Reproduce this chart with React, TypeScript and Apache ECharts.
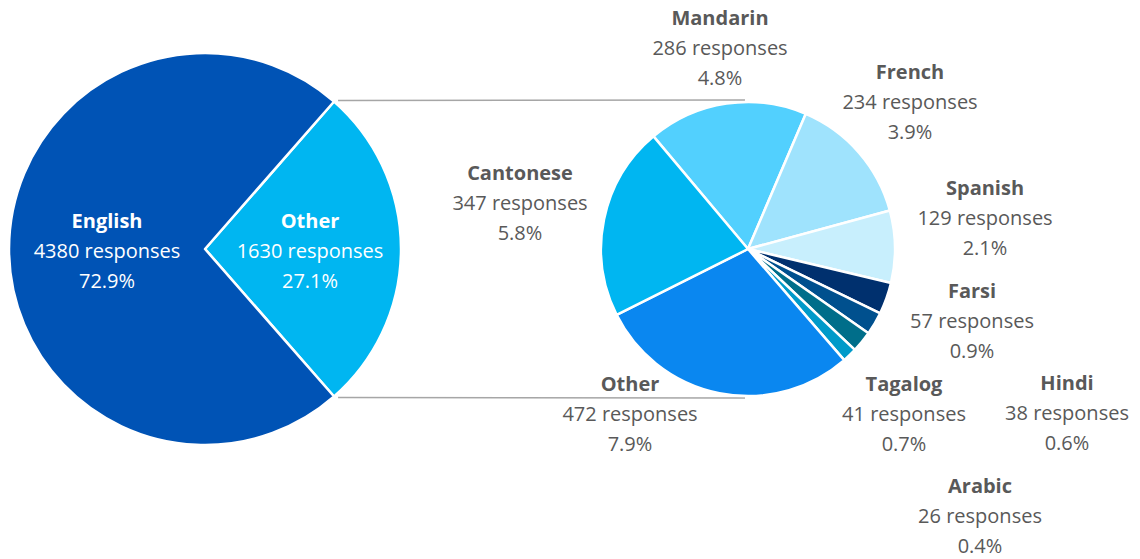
import React, { useEffect, useRef } from "react";
import * as echarts from "echarts";

const mainNames = ["Other", "English"];
const mainValues = [1630, 4380];
const mainColors = ["#00B6F1", "#0053B5"];

const otherNames = ["Mandarin", "French", "Spanish", "Farsi", "Tagalog", "Hindi", "Arabic", "Other", "Cantonese"];
const otherValues = [286, 234, 129, 57, 41, 38, 26, 472, 347];
const otherColors = ["#52D0FE", "#9FE3FD", "#C8EFFD", "#00306E", "#00508E", "#006E8A", "#009AC9", "#0A87F0", "#00B6F1"];

// label block centres (x, y)
const mainLabelPos = [[310, 250], [107, 250]];
const otherLabelPos = [[720, 47], [910, 101], [985, 217], [972, 320], [904, 413], [1067, 412], [980, 515], [630, 413], [520, 202]];

const FONT = "'Open Sans', sans-serif";

export default function App() {
  const ref = useRef<HTMLDivElement>(null);
  useEffect(() => {
    const chart = echarts.init(ref.current!, null, { renderer: "svg" });
    const total = mainValues.reduce((a, b) => a + b, 0);
    const mainCenter = [205, 249];
    const mainR = 196;
    const otherCenter = [748, 249];
    const otherR = 147;
    const half = (mainValues[0] / total) * 180;
    const start = half;
    const rad = (start * Math.PI) / 180;
    const topPt = [mainCenter[0] + mainR * Math.cos(rad), mainCenter[1] - mainR * Math.sin(rad)];
    const botPt = [mainCenter[0] + mainR * Math.cos(rad), mainCenter[1] + mainR * Math.sin(rad)];

    const fmt = (p: any) => {
      const pct = ((p.value / total) * 100).toFixed(1);
      return `{b|${p.name}}\n{v|${p.value} responses}\n{v|${pct}%}`;
    };
    const rich = (color: string) => ({
      b: { fontFamily: FONT, fontSize: 20, fontWeight: "bold", color, lineHeight: 30, align: "center" },
      v: { fontFamily: FONT, fontSize: 20, color, lineHeight: 30, align: "center" },
    });

    chart.setOption({
      animation: false,
      graphic: [
        {
          type: "line",
          shape: { x1: topPt[0] + 4, y1: topPt[1] - 1, x2: otherCenter[0] - 3, y2: otherCenter[1] - otherR - 2 },
          style: { stroke: "#A6A6A6", lineWidth: 1.5 },
        },
        {
          type: "line",
          shape: { x1: botPt[0] + 4, y1: botPt[1] + 1, x2: otherCenter[0] - 3, y2: otherCenter[1] + otherR + 2 },
          style: { stroke: "#A6A6A6", lineWidth: 1.5 },
        },
      ],
      series: [
        {
          type: "pie",
          center: mainCenter,
          radius: mainR,
          startAngle: start,
          clockwise: true,
          silent: true,
          itemStyle: { borderColor: "#fff", borderWidth: 2.5 },
          label: { show: true, position: "inside", formatter: fmt, rich: rich("#ffffff") },
          labelLine: { show: false },
          labelLayout: (p: any) => ({ x: mainLabelPos[p.dataIndex][0], y: mainLabelPos[p.dataIndex][1], align: "center", verticalAlign: "middle" }),
          data: mainNames.map((n, i) => ({ name: n, value: mainValues[i], itemStyle: { color: mainColors[i] } })),
        },
        {
          type: "pie",
          center: otherCenter,
          radius: otherR,
          startAngle: 130,
          clockwise: true,
          silent: true,
          avoidLabelOverlap: false,
          itemStyle: { borderColor: "#fff", borderWidth: 2.5 },
          label: { show: true, position: "outside", formatter: fmt, rich: rich("#595959") },
          labelLine: { show: false },
          labelLayout: (p: any) => ({ x: otherLabelPos[p.dataIndex][0], y: otherLabelPos[p.dataIndex][1], align: "center", verticalAlign: "middle" }),
          data: otherNames.map((n, i) => ({ name: n, value: otherValues[i], itemStyle: { color: otherColors[i] } })),
        },
      ],
    });
    return () => chart.dispose();
  }, []);
  return <div ref={ref} style={{ position: "fixed", left: 0, top: 0, width: 1140, height: 559, background: "#fff" }} />;
}
